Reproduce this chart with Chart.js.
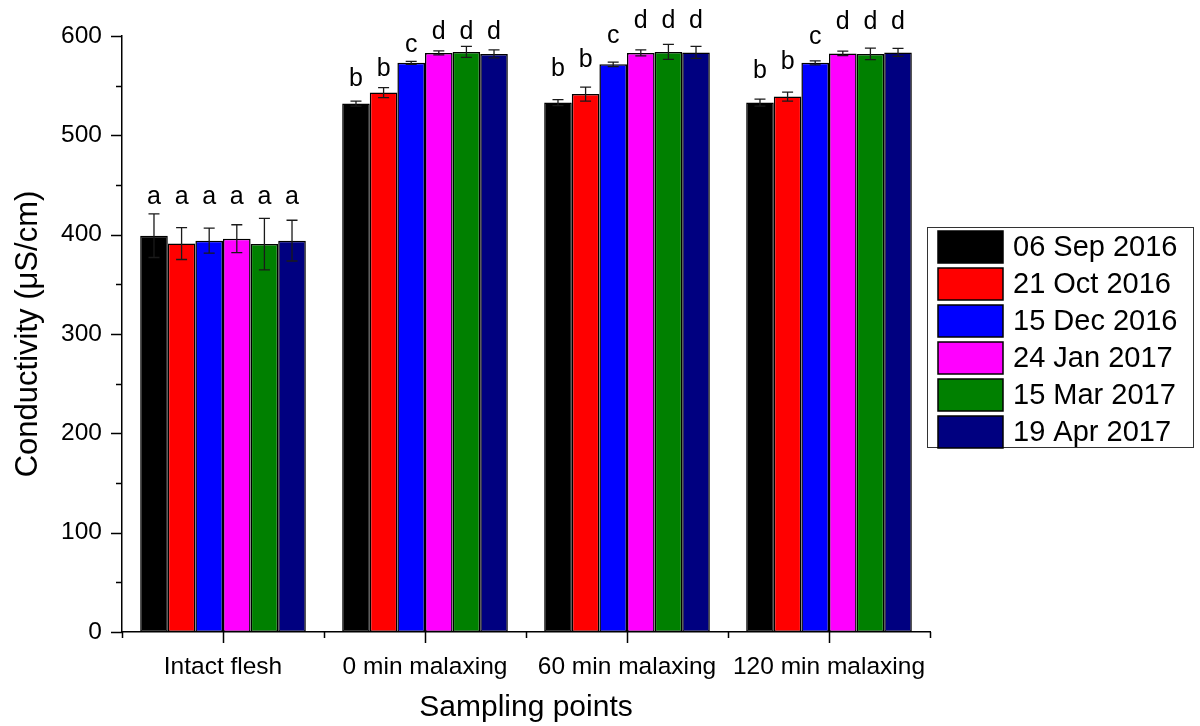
<!DOCTYPE html>
<html>
<head>
<meta charset="utf-8">
<script src="https://cdn.jsdelivr.net/npm/chart.js@4/dist/chart.umd.min.js"></script>
<style>
  html, body { margin: 0; padding: 0; background: #ffffff; }
  #wrap { width: 1200px; height: 726px; position: relative; }
</style>
</head>
<body>
<div id="wrap"><canvas id="c" width="1200" height="726"></canvas></div>
<script>
// Sampling points on the x axis
const categories = ['Intact flesh', '0 min malaxing', '60 min malaxing', '120 min malaxing'];

// Harvest dates (one series each)
const seriesNames = ['06 Sep 2016', '21 Oct 2016', '15 Dec 2016', '24 Jan 2017', '15 Mar 2017', '19 Apr 2017'];
const seriesColors = ['#000000', '#ff0000', '#0000ff', '#ff00ff', '#008000', '#000080'];

// Mean conductivity (µS/cm) per sampling point
const sep2016 = [399, 532, 533, 533];
const oct2016 = [391, 543, 541.5, 539];
const dec2016 = [394, 573, 571.5, 573];
const jan2017 = [396, 583, 583, 582.5];
const mar2017 = [390.5, 584, 584, 582];
const apr2017 = [394, 582, 583.5, 583.5];

// Standard deviations
const sep2016Err = [22, 2.5, 3, 3.5];
const oct2016Err = [16, 5, 7, 4.5];
const dec2016Err = [12.5, 1.5, 2.3, 2];
const jan2017Err = [14, 2, 3, 2.3];
const mar2017Err = [26, 5.5, 7.5, 5.8];
const apr2017Err = [20.5, 4, 6, 4];

// Significance letters
const sep2016Sig = ['a', 'b', 'b', 'b'];
const oct2016Sig = ['a', 'b', 'b', 'b'];
const dec2016Sig = ['a', 'c', 'c', 'c'];
const jan2017Sig = ['a', 'd', 'd', 'd'];
const mar2017Sig = ['a', 'd', 'd', 'd'];
const apr2017Sig = ['a', 'd', 'd', 'd'];

// Height (axis units) at which each letter is centred
const sep2016SigAt = [438, 557, 566.5, 565];
const oct2016SigAt = [438, 567, 576, 574];
const dec2016SigAt = [438, 591, 600, 599];
const jan2017SigAt = [438, 604, 614.5, 614];
const mar2017SigAt = [438, 604, 614.5, 614];
const apr2017SigAt = [438, 604, 614.5, 614];

// Y axis ticks
const yMin = 0, yMax = 600, yStep = 100, yMinorStep = 50;

const values = [sep2016, oct2016, dec2016, jan2017, mar2017, apr2017];
const errors = [sep2016Err, oct2016Err, dec2016Err, jan2017Err, mar2017Err, apr2017Err];
const letters = [sep2016Sig, oct2016Sig, dec2016Sig, jan2017Sig, mar2017Sig, apr2017Sig];
const letterAt = [sep2016SigAt, oct2016SigAt, dec2016SigAt, jan2017SigAt, mar2017SigAt, apr2017SigAt];

const FONT = '"Liberation Sans", Arial, Helvetica, sans-serif';

const datasets = seriesNames.map((name, i) => ({
  label: name,
  data: values[i],
  errors: errors[i],
  letters: letters[i],
  letterAt: letterAt[i],
  backgroundColor: seriesColors[i],
  borderColor: '#000000',
  borderWidth: 1.5,
  borderSkipped: false,
  barPercentage: 1.0,
  categoryPercentage: 0.82
}));

// Axis tick marks: major ticks outward, minor ticks between them
const tickMarks = {
  id: 'tickMarks',
  afterDraw(chart) {
    const ctx = chart.ctx;
    const x = chart.scales.x, y = chart.scales.y;
    const area = chart.chartArea;
    ctx.save();
    ctx.strokeStyle = '#000000';
    ctx.lineWidth = 1.5;
    ctx.beginPath();
    for (let v = yMin; v <= yMax; v += yMinorStep) {
      const py = Math.round(y.getPixelForValue(v)) + 0.5;
      const len = (v % yStep === 0) ? 11 : 6;
      ctx.moveTo(area.left, py);
      ctx.lineTo(area.left - len, py);
    }
    const n = categories.length;
    const w = (area.right - area.left) / n;
    for (let i = 0; i <= n; i++) {
      const px = Math.round(area.left + i * w) + 0.5;
      ctx.moveTo(px, area.bottom);
      ctx.lineTo(px, area.bottom + 6);
    }
    for (let i = 0; i < n; i++) {
      const px = Math.round(x.getPixelForValue(i)) + 0.5;
      ctx.moveTo(px, area.bottom);
      ctx.lineTo(px, area.bottom + 11);
    }
    ctx.stroke();
    ctx.restore();
  }
};

// Error bars and significance letters above each bar
const barExtras = {
  id: 'barExtras',
  afterDatasetsDraw(chart) {
    const ctx = chart.ctx;
    const y = chart.scales.y;
    ctx.save();
    chart.data.datasets.forEach((ds, di) => {
      const meta = chart.getDatasetMeta(di);
      meta.data.forEach((bar, i) => {
        const v = ds.data[i], e = ds.errors[i];
        const top = y.getPixelForValue(v + e);
        const bot = y.getPixelForValue(v - e);
        const cx = bar.x;
        ctx.strokeStyle = '#1a1a1a';
        ctx.lineWidth = 1.3;
        ctx.beginPath();
        ctx.moveTo(cx, top); ctx.lineTo(cx, bot);
        ctx.moveTo(cx - 5.5, top); ctx.lineTo(cx + 5.5, top);
        ctx.moveTo(cx - 5.5, bot); ctx.lineTo(cx + 5.5, bot);
        ctx.stroke();

        ctx.fillStyle = '#000000';
        ctx.font = '25px ' + FONT;
        ctx.textAlign = 'center';
        ctx.textBaseline = 'middle';
        ctx.fillText(ds.letters[i], cx, y.getPixelForValue(ds.letterAt[i]));
      });
    });
    ctx.restore();
  }
};

// Boxed legend to the right of the plot
const boxedLegend = {
  id: 'boxedLegend',
  afterDraw(chart) {
    const ctx = chart.ctx;
    const left = 927, top = 227, width = 266, height = 220;
    const sw = 65, sh = 32, pitch = 37;
    ctx.save();
    ctx.fillStyle = '#ffffff';
    ctx.fillRect(left, top, width, height);
    ctx.strokeStyle = '#333333';
    ctx.lineWidth = 1;
    ctx.strokeRect(left + 0.5, top + 0.5, width, height);
    chart.data.datasets.forEach((ds, i) => {
      const sy = top + 4 + i * pitch;
      ctx.fillStyle = ds.backgroundColor;
      ctx.fillRect(left + 11, sy, sw, sh);
      ctx.strokeStyle = '#000000';
      ctx.lineWidth = 1.5;
      ctx.strokeRect(left + 11, sy, sw, sh);
      ctx.fillStyle = '#000000';
      ctx.font = '29px ' + FONT;
      ctx.textAlign = 'left';
      ctx.textBaseline = 'middle';
      ctx.fillText(ds.label, left + 86, sy + sh / 2 + 1);
    });
    ctx.restore();
  }
};

new Chart(document.getElementById('c'), {
  type: 'bar',
  data: { labels: categories, datasets },
  options: {
    responsive: false,
    animation: false,
    devicePixelRatio: 1,
    layout: { padding: { top: 36, right: 270, left: 0, bottom: 0 } },
    plugins: {
      legend: { display: false },
      tooltip: { enabled: false }
    },
    scales: {
      x: {
        type: 'category',
        offset: true,
        grid: { display: false, drawTicks: false },
        border: { display: true, color: '#000000', width: 1.5 },
        ticks: {
          color: '#000000',
          font: { family: FONT, size: 24.5 },
          padding: 21,
          maxRotation: 0,
          autoSkip: false
        },
        title: {
          display: true,
          text: 'Sampling points',
          color: '#000000',
          font: { family: FONT, size: 30 },
          padding: { top: 0, bottom: 0 }
        },
        afterFit(scale) { scale.height = 94; }
      },
      y: {
        min: yMin,
        max: yMax,
        grid: { display: false, drawTicks: false },
        border: { display: true, color: '#000000', width: 1.5 },
        ticks: {
          stepSize: yStep,
          color: '#000000',
          font: { family: FONT, size: 24.5 },
          padding: 20
        },
        title: {
          display: true,
          text: 'Conductivity (μS/cm)',
          color: '#000000',
          font: { family: FONT, size: 31 },
          padding: { top: 10, bottom: 0 }
        },
        afterFit(scale) { scale.width = 122; }
      }
    }
  },
  plugins: [barExtras, tickMarks, boxedLegend]
});
</script>
</body>
</html>
